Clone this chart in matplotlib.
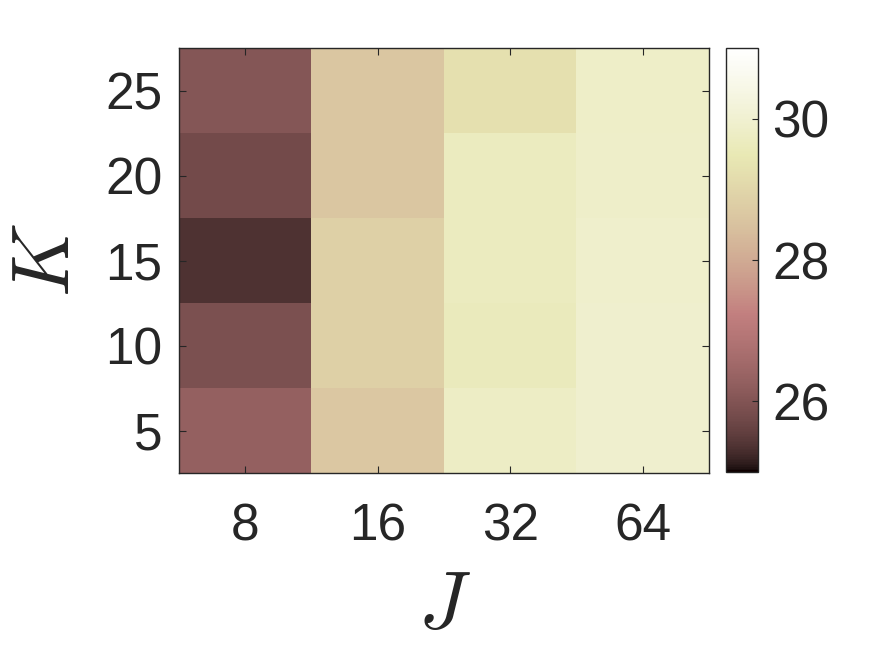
import numpy as np
import matplotlib
matplotlib.use("Agg")
import matplotlib.pyplot as plt
from matplotlib.colors import ListedColormap

J_labels = ["8", "16", "32", "64"]
K_values = [5, 10, 15, 20, 25]

# rows = K (5..25), cols = J (8, 16, 32, 64)
val_J8 = [26.30, 25.91, 25.36, 25.78, 26.05]
val_J16 = [28.65, 28.85, 28.85, 28.63, 28.63]
val_J32 = [29.79, 29.62, 29.67, 29.67, 29.28]
val_J64 = [29.95, 29.95, 29.90, 29.87, 29.85]


def matlab_pink(m=256):
    x = np.arange(m) / (m - 1)
    n = int(3 / 8 * m)
    r = np.concatenate([np.arange(1, n + 1) / n, np.ones(m - n)])
    g = np.concatenate([np.zeros(n), np.arange(1, n + 1) / n, np.ones(m - 2 * n)])
    b = np.concatenate([np.zeros(2 * n), np.arange(1, m - 2 * n + 1) / (m - 2 * n)])
    hot = np.stack([r, g, b], axis=1)
    gray = np.stack([x, x, x], axis=1)
    return ListedColormap(np.sqrt((2 * gray + hot) / 3))


data = np.array([val_J8, val_J16, val_J32, val_J64]).T

plt.rcParams['font.family'] = ['Liberation Sans', 'DejaVu Sans']
plt.rcParams['mathtext.fontset'] = 'cm'
dark = '#262626'

fig = plt.figure(figsize=(8.75, 6.56), dpi=100)
ax = fig.add_axes([179 / 875, 1 - 473 / 656, 530 / 875, 425 / 656])
cax = fig.add_axes([726 / 875, 1 - 472 / 656, 32 / 875, 424 / 656])

im = ax.imshow(data, cmap=matlab_pink(), vmin=25, vmax=31, origin='lower',
               aspect='auto', extent=[0.5, 4.5, 2.5, 27.5], interpolation='nearest')

ax.set_xticks(np.arange(1, 5))
ax.set_xticklabels(J_labels)
ax.set_yticks(K_values)
ax.tick_params(direction='in', length=5, width=0.8, colors=dark, labelsize=37,
               top=True, right=True)
ax.tick_params(axis='x', pad=21)
ax.tick_params(axis='y', pad=12)
for s in ax.spines.values():
    s.set_color(dark)
    s.set_linewidth(1)
ax.set_xlabel(r'$J$', fontsize=58, color=dark, labelpad=13)
ax.set_ylabel(r'$K$', fontsize=58, color=dark, labelpad=14)

cb = fig.colorbar(im, cax=cax)
cb.set_ticks([26, 28, 30])
cax.tick_params(direction='in', length=4, width=0.8, colors=dark, labelsize=37, pad=10.5)
cb.outline.set_edgecolor(dark)
cb.outline.set_linewidth(1)

fig.savefig("out.png", dpi=100)
